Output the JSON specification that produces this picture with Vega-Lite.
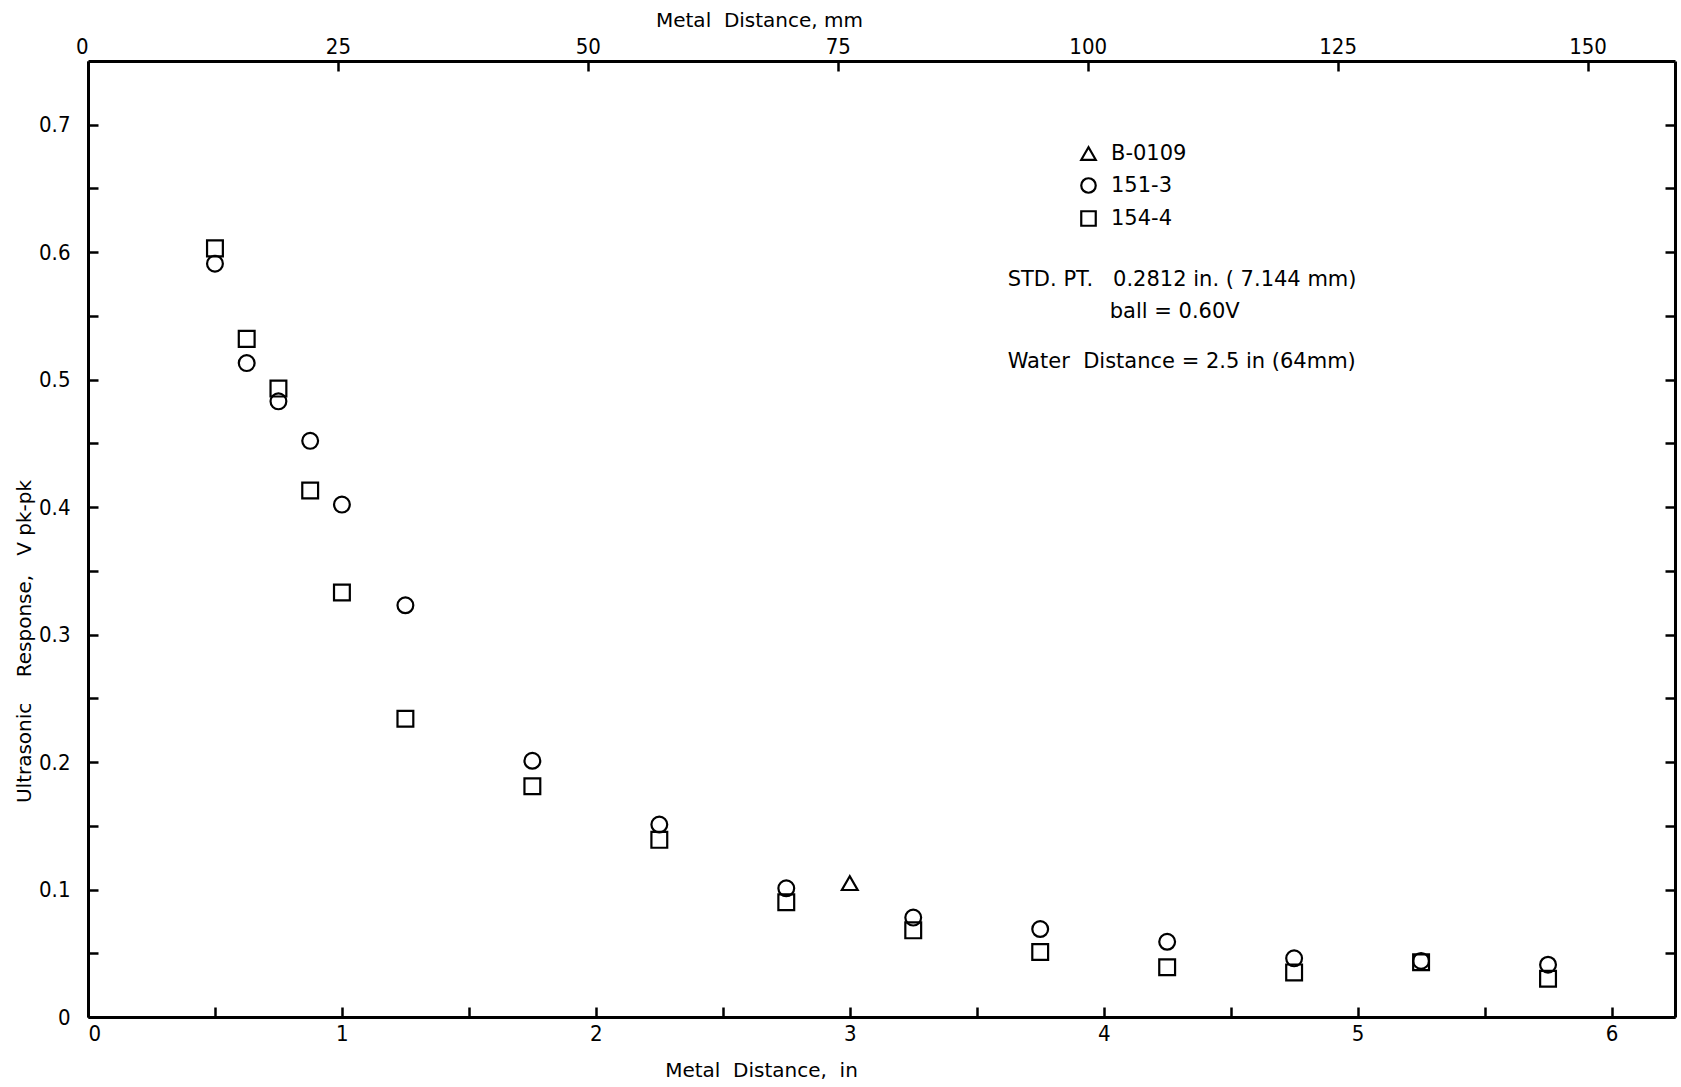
{
  "$schema": "https://vega.github.io/schema/vega-lite/v6.json",
  "autosize": "none",
  "padding": {"left": 88, "top": 61, "right": 6, "bottom": 70},
  "width": 1587,
  "height": 956,
  "background": "white",
  "config": {
    "view": {"stroke": null},
    "font": "DejaVu Sans",
    "axis": {
      "domainColor": "black",
      "domainWidth": 3,
      "tickColor": "black",
      "tickWidth": 2.5,
      "tickSize": -10,
      "grid": false,
      "labelColor": "black",
      "titleColor": "black",
      "labelFont": "DejaVu Sans Condensed, Liberation Sans Narrow, sans-serif",
      "labelFontSize": 22,
      "titleFont": "DejaVu Sans",
      "titleFontSize": 20,
      "titleFontWeight": "normal"
    }
  },
  "layer": [
    {
      "data": {
        "values": [
          {"series": "154-4", "x": 0.5, "v": 0.603},
          {"series": "151-3", "x": 0.5, "v": 0.591},
          {"series": "154-4", "x": 0.625, "v": 0.532},
          {"series": "151-3", "x": 0.625, "v": 0.513},
          {"series": "154-4", "x": 0.75, "v": 0.493},
          {"series": "151-3", "x": 0.75, "v": 0.483},
          {"series": "151-3", "x": 0.875, "v": 0.452},
          {"series": "154-4", "x": 0.875, "v": 0.413},
          {"series": "151-3", "x": 1.0, "v": 0.402},
          {"series": "154-4", "x": 1.0, "v": 0.333},
          {"series": "151-3", "x": 1.25, "v": 0.323},
          {"series": "154-4", "x": 1.25, "v": 0.234},
          {"series": "151-3", "x": 1.75, "v": 0.201},
          {"series": "154-4", "x": 1.75, "v": 0.181},
          {"series": "151-3", "x": 2.25, "v": 0.151},
          {"series": "154-4", "x": 2.25, "v": 0.139},
          {"series": "151-3", "x": 2.75, "v": 0.101},
          {"series": "154-4", "x": 2.75, "v": 0.090},
          {"series": "B-0109", "x": 3.0, "v": 0.105},
          {"series": "151-3", "x": 3.25, "v": 0.078},
          {"series": "154-4", "x": 3.25, "v": 0.068},
          {"series": "151-3", "x": 3.75, "v": 0.069},
          {"series": "154-4", "x": 3.75, "v": 0.051},
          {"series": "151-3", "x": 4.25, "v": 0.059},
          {"series": "154-4", "x": 4.25, "v": 0.039},
          {"series": "151-3", "x": 4.75, "v": 0.046},
          {"series": "154-4", "x": 4.75, "v": 0.035},
          {"series": "151-3", "x": 5.25, "v": 0.044},
          {"series": "154-4", "x": 5.25, "v": 0.043},
          {"series": "151-3", "x": 5.75, "v": 0.041},
          {"series": "154-4", "x": 5.75, "v": 0.030}
        ]
      },
      "mark": {"type": "point", "filled": false, "stroke": "black", "strokeWidth": 2.2, "opacity": 1},
      "encoding": {
        "x": {
          "field": "x", "type": "quantitative",
          "scale": {"domain": [0, 6.25], "nice": false, "zero": false},
          "axis": {
            "orient": "bottom",
            "title": "Metal\u00a0\u00a0Distance,\u00a0 in",
            "values": [0, 0.5, 1, 1.5, 2, 2.5, 3, 3.5, 4, 4.5, 5, 5.5, 6],
            "labelExpr": "datum.value % 1 == 0 ? format(datum.value, 'd') : ''",
            "labelPadding": 16,
            "titleX": 673,
            "titleY": 53,
            "titleBaseline": "middle",
            "titleAlign": "center"
          }
        },
        "y": {
          "field": "v", "type": "quantitative",
          "scale": {"domain": [0, 0.75], "nice": false, "zero": false},
          "axis": {
            "orient": "left",
            "title": "Ultrasonic\u00a0\u00a0\u00a0\u00a0Response,\u00a0\u00a0\u00a0V pk-pk",
            "values": [0, 0.05, 0.1, 0.15, 0.2, 0.25, 0.3, 0.35, 0.4, 0.45, 0.5, 0.55, 0.6, 0.65, 0.7],
            "labelExpr": "round(datum.value * 100) % 10 == 0 ? format(datum.value, '.1~f') : ''",
            "labelPadding": 28,
            "titleX": -64,
            "titleY": 580,
            "titleAngle": -90,
            "titleBaseline": "middle",
            "titleAlign": "center"
          }
        },
        "shape": {
          "field": "series", "type": "nominal",
          "scale": {"domain": ["B-0109", "151-3", "154-4"], "range": ["triangle-up", "circle", "square"]},
          "legend": {
            "title": null,
            "orient": "none",
            "legendX": 990,
            "legendY": 82,
            "padding": 0,
            "labelFont": "DejaVu Sans",
            "labelFontSize": 21,
            "labelColor": "black",
            "labelOffset": 12,
            "rowPadding": 8,
            "symbolSize": 210,
            "symbolStrokeColor": "black",
            "symbolStrokeWidth": 2.2,
            "symbolFillColor": "transparent"
          }
        },
        "size": {"value": 250}
      }
    },
    {
      "data": {
        "values": [
          {"label": "STD. PT.\u00a0\u00a0 0.2812 in. ( 7.144 mm)", "x": 3.622, "v": 0.578},
          {"label": "ball = 0.60V", "x": 4.024, "v": 0.553},
          {"label": "Water\u00a0 Distance = 2.5 in (64mm)", "x": 3.622, "v": 0.514}
        ]
      },
      "mark": {"type": "text", "align": "left", "baseline": "middle", "font": "DejaVu Sans", "fontSize": 21, "color": "black"},
      "encoding": {
        "x": {"field": "x", "type": "quantitative", "scale": {"domain": [0, 6.25], "nice": false, "zero": false}, "axis": null},
        "y": {"field": "v", "type": "quantitative", "axis": null},
        "text": {"field": "label"}
      }
    },
    {
      "data": {"values": [{"mm": 0, "v": 0}, {"mm": 158.75, "v": 0.75}]},
      "mark": {"type": "point", "opacity": 0},
      "encoding": {
        "x": {
          "field": "mm", "type": "quantitative",
          "scale": {"domain": [0, 158.75], "nice": false, "zero": false},
          "axis": {
            "orient": "top",
            "title": "Metal\u00a0\u00a0Distance,\u00a0mm",
            "values": [0, 25, 50, 75, 100, 125, 150],
            "labelPadding": 13,
            "labelAlign": {"condition": {"test": "datum.value == 0", "value": "right"}, "value": "center"},
            "titleX": 671,
            "titleY": -41,
            "titleBaseline": "middle",
            "titleAlign": "center"
          }
        },
        "y": {
          "field": "v", "type": "quantitative",
          "axis": {
            "orient": "right",
            "title": null,
            "labels": false,
            "values": [0, 0.05, 0.1, 0.15, 0.2, 0.25, 0.3, 0.35, 0.4, 0.45, 0.5, 0.55, 0.6, 0.65, 0.7]
          }
        }
      }
    }
  ],
  "resolve": {"scale": {"x": "independent"}, "axis": {"x": "independent", "y": "independent"}}
}
